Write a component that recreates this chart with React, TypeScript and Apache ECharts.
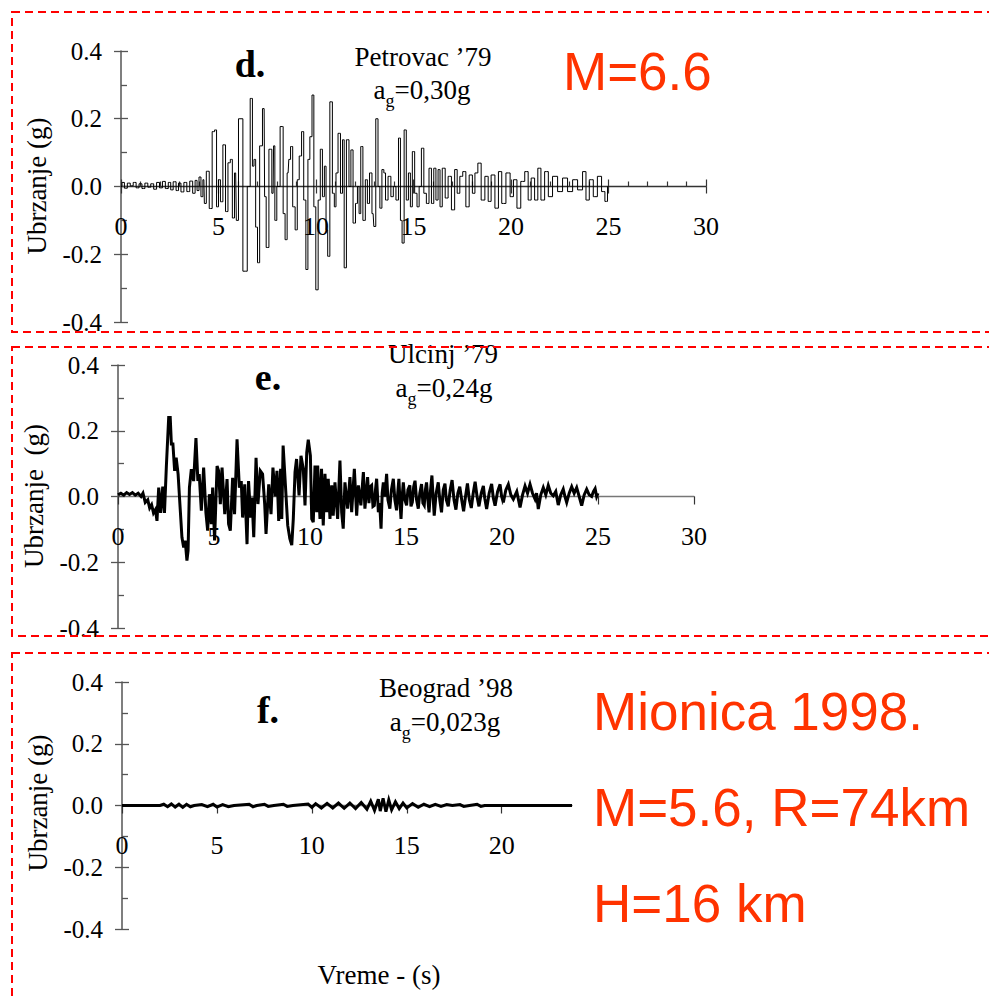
import React, { useEffect, useRef } from 'react';
import * as echarts from 'echarts';

// ---------- data ----------
// Petrovac '79 (panel d), time in s, acceleration in g
const petrovacT = [0, 0.1, 0.25, 0.4, 0.55, 0.7, 0.85, 1.0, 1.15, 1.3, 1.45, 1.6, 1.75, 1.9, 2.05, 2.2, 2.35, 2.5, 2.6, 2.75, 2.9, 3.0, 3.15, 3.3, 3.45, 3.6, 3.75, 3.85, 3.95, 4.05, 4.15, 4.25, 4.3, 4.45, 4.6, 4.75, 4.85, 4.95, 5.05, 5.15, 5.3, 5.42, 5.55, 5.66, 5.76, 5.88, 5.95, 6.1, 6.4, 6.55, 6.7, 6.78, 6.86, 6.95, 7.05, 7.17, 7.34, 7.39, 7.5, 7.67, 7.8, 7.85, 7.93, 8.05, 8.27, 8.36, 8.47, 8.57, 8.64, 8.75, 8.86, 9.0, 9.08, 9.2, 9.32, 9.42, 9.54, 9.63, 9.74, 9.85, 9.93, 10.05, 10.17, 10.27, 10.39, 10.47, 10.56, 10.64, 10.78, 10.9, 10.98, 11.07, 11.19, 11.32, 11.4, 11.49, 11.63, 11.75, 11.83, 11.97, 12.08, 12.17, 12.25, 12.34, 12.47, 12.59, 12.68, 12.81, 12.93, 13.0, 13.13, 13.23, 13.32, 13.44, 13.52, 13.61, 13.78, 13.9, 14.03, 14.17, 14.29, 14.37, 14.46, 14.58, 14.68, 14.8, 14.88, 15.0, 15.12, 15.24, 15.34, 15.47, 15.59, 15.73, 15.86, 15.98, 16.1, 16.2, 16.32, 16.4, 16.55, 16.7, 16.85, 17.04, 17.18, 17.3, 17.45, 17.6, 17.77, 17.94, 18.1, 18.2, 18.4, 18.54, 18.78, 18.88, 19.08, 19.27, 19.44, 19.61, 19.87, 20.04, 20.21, 20.4, 20.6, 20.81, 20.95, 21.12, 21.3, 21.45, 21.62, 21.83, 22.0, 22.26, 22.52, 22.77, 23.03, 23.29, 23.54, 23.8, 23.89, 24.14, 24.3, 24.56, 24.73, 24.9, 25.0];
const petrovacA = [0, 0.012, -0.005, 0.01, 0.002, 0.012, -0.004, 0.008, -0.006, 0.01, -0.002, 0.008, -0.008, 0.012, -0.004, 0.015, -0.006, 0.012, -0.01, 0.014, -0.012, 0.01, -0.016, 0.012, -0.015, 0.016, -0.02, 0.018, -0.012, 0.028, -0.03, 0.02, -0.05, 0.045, -0.065, 0.162, 0.167, -0.06, 0.02, -0.045, 0.123, -0.074, 0.07, 0.08, -0.093, 0.04, -0.1, 0.2, -0.25, 0.0, 0.26, 0.06, 0.08, -0.12, -0.225, 0.12, 0.23, -0.03, -0.18, 0.11, -0.02, 0.12, -0.1, 0.0, 0.177, -0.08, -0.157, 0.04, 0.08, 0.118, -0.06, -0.128, 0.02, 0.09, 0.162, -0.04, -0.245, 0.08, 0.147, 0.27, -0.06, -0.305, -0.04, 0.11, -0.03, 0.06, -0.128, -0.206, 0.25, -0.02, -0.06, 0.04, 0.157, -0.02, 0.138, -0.24, 0.138, 0.0, 0.108, -0.108, -0.05, 0.0, -0.08, 0.118, -0.1, 0.02, -0.05, 0.04, -0.08, -0.118, 0.2, 0.0, -0.064, 0.05, 0.04, -0.04, 0.03, -0.03, 0.0, -0.04, 0.143, -0.1, -0.167, 0.167, -0.04, 0.04, -0.06, 0.103, -0.02, -0.06, 0.0, 0.113, -0.02, -0.05, 0.054, -0.05, 0.054, -0.04, 0.05, -0.06, 0.054, -0.034, 0.03, -0.069, 0.05, -0.02, 0.03, 0.044, -0.06, 0.034, -0.02, 0.04, 0.069, -0.04, 0.03, -0.044, 0.034, -0.064, 0.044, -0.05, 0.04, -0.03, 0.02, -0.064, 0.015, 0.044, -0.04, 0.025, -0.04, 0.054, -0.04, 0.044, -0.03, 0.03, -0.015, 0.025, -0.015, 0.02, -0.01, 0.044, -0.04, 0.02, -0.03, 0.03, -0.015, -0.044, 0.0];

// Ulcinj '79 (panel e)
const ulcinjT = [0, 0.15, 0.3, 0.45, 0.6, 0.75, 0.9, 1.05, 1.2, 1.3, 1.42, 1.55, 1.65, 1.75, 1.85, 1.95, 2.03, 2.12, 2.22, 2.33, 2.42, 2.52, 2.64, 2.72, 2.78, 2.86, 2.95, 3.03, 3.13, 3.2, 3.33, 3.42, 3.5, 3.59, 3.65, 3.72, 3.82, 3.94, 4.06, 4.16, 4.23, 4.34, 4.46, 4.58, 4.67, 4.76, 4.86, 4.93, 5.03, 5.16, 5.24, 5.33, 5.42, 5.56, 5.68, 5.76, 5.85, 5.97, 6.07, 6.2, 6.32, 6.42, 6.49, 6.6, 6.72, 6.8, 6.91, 6.98, 7.07, 7.19, 7.29, 7.41, 7.53, 7.64, 7.71, 7.85, 7.97, 8.07, 8.19, 8.28, 8.37, 8.47, 8.53, 8.6, 8.72, 8.84, 8.95, 9.05, 9.13, 9.22, 9.3, 9.43, 9.53, 9.65, 9.74, 9.83, 9.91, 10.02, 10.09, 10.17, 10.26, 10.35, 10.4, 10.52, 10.6, 10.69, 10.78, 10.87, 10.95, 11.04, 11.13, 11.21, 11.3, 11.44, 11.56, 11.65, 11.73, 11.82, 11.96, 12.08, 12.17, 12.31, 12.43, 12.52, 12.65, 12.78, 12.86, 13.0, 13.07, 13.14, 13.21, 13.28, 13.35, 13.41, 13.47, 13.52, 13.56, 13.63, 13.7, 13.76, 13.82, 13.9, 13.99, 14.06, 14.16, 14.24, 14.34, 14.42, 14.51, 14.57, 14.63, 14.69, 14.74, 14.8, 14.86, 14.94, 15.03, 15.1, 15.2, 15.26, 15.33, 15.4, 15.47, 15.55, 15.64, 15.72, 15.81, 15.88, 15.95, 16.01, 16.07, 16.14, 16.2, 16.28, 16.35, 16.41, 16.47, 16.57, 16.68, 16.76, 16.85, 16.94, 17.03, 17.1, 17.2, 17.3, 17.4, 17.5, 17.6, 17.7, 17.8, 17.9, 18.0, 18.1, 18.2, 18.3, 18.4, 18.5, 18.6, 18.7, 18.8, 18.92, 19.03, 19.1, 19.2, 19.33, 19.46, 19.55, 19.64, 19.77, 19.9, 19.98, 20.07, 20.2, 20.33, 20.46, 20.59, 20.77, 20.94, 21.07, 21.2, 21.33, 21.46, 21.59, 21.72, 21.8, 21.89, 22.02, 22.15, 22.28, 22.41, 22.54, 22.67, 22.8, 22.93, 23.06, 23.19, 23.28, 23.37, 23.5, 23.63, 23.76, 23.89, 24.02, 24.15, 24.28, 24.41, 24.54, 24.67, 24.76, 24.85, 24.93, 25.0];
const ulcinjA = [0.005, 0.01, 0.004, 0.012, 0.006, 0.012, 0.004, 0.01, 0.0, 0.01, -0.018, -0.01, -0.035, -0.025, -0.05, -0.04, -0.074, 0.027, -0.05, 0.03, -0.05, 0.093, 0.24, 0.24, 0.16, 0.16, 0.078, 0.118, 0.068, 0.0, -0.124, -0.155, -0.134, -0.195, -0.165, 0.027, 0.083, 0.047, 0.178, 0.047, 0.068, -0.043, 0.088, -0.05, -0.104, 0.007, -0.084, 0.027, -0.134, 0.093, 0.078, -0.023, 0.088, -0.054, 0.053, -0.084, -0.104, 0.057, -0.054, 0.174, 0.027, 0.047, -0.064, 0.037, -0.145, 0.047, -0.064, -0.003, -0.124, 0.118, -0.023, 0.078, 0.068, -0.023, -0.114, 0.037, -0.054, 0.088, 0.0, 0.078, -0.074, 0.084, -0.068, 0.155, 0.034, -0.088, -0.128, -0.148, -0.068, 0.074, 0.114, 0.003, 0.124, 0.084, -0.027, 0.134, 0.173, 0.124, -0.068, -0.078, 0.094, -0.048, 0.094, -0.068, 0.084, -0.088, 0.069, -0.048, 0.054, -0.068, 0.034, -0.058, 0.043, -0.068, 0.109, -0.048, -0.098, 0.043, -0.037, 0.059, -0.048, 0.084, -0.058, 0.034, -0.027, 0.074, -0.037, 0.059, -0.02, 0.03, 0.034, -0.03, -0.027, 0.02, 0.054, 0.0, -0.048, -0.02, -0.098, 0.01, 0.043, 0.0, 0.069, -0.01, -0.037, 0.02, 0.054, -0.01, -0.042, 0.01, 0.054, -0.02, -0.068, 0.0, 0.043, -0.01, -0.027, 0.02, 0.034, -0.03, -0.017, 0.03, 0.048, -0.01, -0.037, 0.01, 0.038, -0.02, -0.027, 0.02, 0.043, -0.01, -0.048, 0.02, 0.064, 0.0, -0.058, 0.01, 0.043, -0.01, -0.048, 0.02, 0.039, -0.01, -0.03, 0.02, 0.05, -0.01, -0.04, 0.01, 0.03, -0.01, -0.045, 0.0, 0.04, -0.01, -0.035, 0.01, 0.045, 0.0, -0.03, 0.01, 0.032, -0.005, -0.038, 0.01, 0.038, -0.005, -0.028, 0.015, 0.037, 0.0, -0.018, 0.02, 0.037, 0.005, -0.008, 0.015, -0.033, 0.005, 0.032, 0.01, 0.037, 0.01, -0.008, 0.01, -0.038, 0.005, 0.027, 0.005, 0.034, 0.01, 0.002, 0.015, -0.026, 0.005, 0.022, 0.0, -0.018, 0.01, 0.03, 0.01, 0.027, 0.0, -0.028, 0.005, 0.022, 0.005, 0.0, 0.015, 0.024, 0.0, 0.01];

// Beograd '98 (panel f)
const beogradT = [0, 2.0, 2.2, 2.4, 2.6, 2.8, 3.0, 3.2, 3.4, 3.6, 3.8, 4.2, 4.5, 4.8, 5.0, 5.3, 5.6, 5.9, 6.7, 6.9, 7.1, 7.5, 7.7, 8.0, 8.5, 8.7, 9.0, 9.8, 10.0, 10.2, 10.5, 10.8, 11.1, 11.4, 11.7, 12.0, 12.3, 12.6, 12.9, 13.1, 13.3, 13.5, 13.6, 13.75, 13.9, 14.05, 14.2, 14.4, 14.6, 14.8, 15.0, 15.3, 15.6, 15.9, 16.2, 16.5, 16.8, 17.1, 17.4, 17.8, 18.0, 18.3, 18.7, 18.9, 19.1, 23.7];
const beogradA = [0, 0, 0.004, -0.004, 0.005, -0.005, 0.004, -0.006, 0.004, -0.004, 0, 0.003, -0.004, 0.004, -0.005, 0.003, -0.004, 0, 0.004, -0.004, 0, 0.004, -0.003, 0, 0.004, -0.003, 0, 0.005, -0.006, 0.006, -0.008, 0.007, -0.008, 0.008, -0.009, 0.008, -0.01, 0.01, -0.012, 0.014, -0.016, 0.02, -0.018, 0.023, -0.02, 0.018, -0.014, 0.012, -0.01, 0.008, -0.008, 0.006, -0.006, 0.004, -0.004, 0.004, -0.003, 0.003, 0, 0.003, -0.003, 0, 0.004, -0.003, 0, 0];

// tick labels / texts
const xTicksF = [0, 5, 10, 15, 20];
const yLabelText = ['Ubrzanje (g)', 'Ubrzanje  (g)', 'Ubrzanje (g)'];
const panelLetters = ['d.', 'e.', 'f.'];
const stationNames = ["Petrovac \u201979", "Ulcinj \u201979", "Beograd \u201998"];
const pgaValues = ['=0,30g', '=0,24g', '=0,023g'];
const xAxisTitle = 'Vreme - (s)';
const redNotes = ['M=6.6', 'Mionica 1998.', 'M=5.6, R=74km', 'H=16 km'];

const SERIF = '"Liberation Serif", "Times New Roman", serif';
const SANS = '"Liberation Sans", Arial, sans-serif';
const RED = '#ff3300';

function measure(text: string, font: string): number {
  const c = document.createElement('canvas').getContext('2d');
  if (!c) return text.length * 12;
  c.font = font;
  return c.measureText(text).width;
}

export default function App() {
  const ref = useRef<HTMLDivElement>(null);

  useEffect(() => {
    if (!ref.current) return;
    const chart = echarts.init(ref.current, undefined, { renderer: 'svg' });

    const panels = [
      { grid: { left: 121, top: 51, width: 585, height: 271 }, xMax: 30, minor: true, xLine: '#333', xTickLen: 7, lw: 1, step: 'middle', t: petrovacT, a: petrovacA },
      { grid: { left: 118, top: 365, width: 576, height: 263 }, xMax: 30, minor: false, xLine: '#777', xTickLen: 8, lw: 3, step: false, t: ulcinjT, a: ulcinjA },
      { grid: { left: 122, top: 682, width: 450, height: 247 }, xMax: 23.7, minor: false, xLine: '#777', xTickLen: 8, lw: 3, step: false, t: beogradT, a: beogradA },
    ];

    const grids: any[] = [];
    const xAxes: any[] = [];
    const yAxes: any[] = [];
    const series: any[] = [];

    panels.forEach((p, i) => {
      grids.push({ ...p.grid, outerBoundsMode: 'none', containLabel: false });
      const custom = p.xMax === 30 ? undefined : xTicksF;
      xAxes.push({
        gridIndex: i, type: 'value', min: 0, max: p.xMax, interval: 5, position: 'bottom',
        axisLine: { show: true, onZero: true, lineStyle: { color: p.xLine, width: 1.4 } },
        axisTick: { show: true, length: p.xTickLen, lineStyle: { color: '#333', width: 1.2 }, ...(custom ? { customValues: custom } : {}) },
        minorTick: { show: false },
        axisLabel: { show: false },
        splitLine: { show: false },
      });
      xAxes.push({
        gridIndex: i, type: 'value', min: 0, max: p.xMax, interval: 5, position: 'top',
        axisLine: { show: false, onZero: true },
        axisTick: { show: p.minor, length: 7, lineStyle: { color: '#333', width: 1.2 } },
        minorTick: { show: p.minor, splitNumber: 5, length: 5, lineStyle: { color: '#333', width: 1.2 } },
        axisLabel: { show: false },
        splitLine: { show: false },
      });
      yAxes.push({
        gridIndex: i, type: 'value', min: -0.4, max: 0.4, interval: 0.2, position: 'left',
        axisLine: { show: true, onZero: true, lineStyle: { color: '#555', width: 1.5 } },
        axisTick: { show: true, length: 7, lineStyle: { color: '#555', width: 1.3 } },
        axisLabel: { show: true, margin: 19, fontSize: 25, fontFamily: SERIF, color: '#000', formatter: (v: number) => (Math.abs(v) < 1e-9 ? 0 : v).toFixed(1) },
        splitLine: { show: false },
      });
      yAxes.push({
        gridIndex: i, type: 'value', min: -0.4, max: 0.4, interval: 0.2, position: 'right',
        axisLine: { show: false, onZero: true },
        axisTick: { show: true, length: 7, lineStyle: { color: '#555', width: 1.3 } },
        minorTick: { show: true, splitNumber: 2, length: 6, lineStyle: { color: '#555', width: 1.3 } },
        axisLabel: { show: false },
        splitLine: { show: false },
      });
      series.push({
        type: 'line', xAxisIndex: 2 * i, yAxisIndex: 2 * i,
        data: p.t.map((t, k) => [t, p.a[k]]),
        step: p.step,
        symbol: 'none', showSymbol: false, silent: true,
        lineStyle: { color: '#000', width: p.lw, join: 'miter' },
        z: 3,
      });
    });

    // label grids: upper half of each panel, whose bottom edge is the zero line,
    // so the time tick labels sit just below y = 0 as in the reference
    panels.forEach((p, i) => {
      const gi = 3 + i;
      grids.push({ left: p.grid.left, top: p.grid.top, width: p.grid.width, height: p.grid.height / 2, outerBoundsMode: 'none', containLabel: false });
      const custom = p.xMax === 30 ? undefined : xTicksF;
      xAxes.push({
        gridIndex: gi, type: 'value', min: 0, max: p.xMax, interval: 5, position: 'bottom',
        axisLine: { show: false, onZero: false },
        axisTick: { show: false },
        axisLabel: { show: true, margin: 27, fontSize: 26, fontFamily: SERIF, color: '#000', formatter: (v: number) => String(v), ...(custom ? { customValues: custom } : {}) },
        splitLine: { show: false },
      });
      yAxes.push({ gridIndex: gi, type: 'value', min: 0, max: 1, show: false });
    });

    // texts
    const graphics: any[] = [];
    const yLabelPos = [[37, 186], [34, 496], [38, 803]];
    yLabelPos.forEach((pos, i) => {
      graphics.push({
        type: 'text', x: pos[0], y: pos[1], rotation: Math.PI / 2,
        style: { text: yLabelText[i], font: `27px ${SERIF}`, fill: '#000', textAlign: 'center', textVerticalAlign: 'middle' },
      });
    });
    const letterPos = [[250, 64], [268, 377], [268, 710]];
    letterPos.forEach((pos, i) => {
      graphics.push({
        type: 'text', x: pos[0], y: pos[1],
        style: { text: panelLetters[i], font: `bold 38px ${SERIF}`, fill: '#000', textAlign: 'center', textVerticalAlign: 'middle' },
      });
    });
    const namePos = [[423, 57], [443, 354], [446, 688]];
    namePos.forEach((pos, i) => {
      graphics.push({
        type: 'text', x: pos[0], y: pos[1],
        style: { text: stationNames[i], font: `27px ${SERIF}`, fill: '#000', textAlign: 'center', textVerticalAlign: 'middle' },
      });
    });
    const pgaPos = [[422, 90], [444, 388], [445, 722]];
    pgaPos.forEach((pos, i) => {
      const fMain = `27px ${SERIF}`;
      const fSub = `18px ${SERIF}`;
      const wa = measure('a', fMain);
      const wg = measure('g', fSub);
      const wr = measure(pgaValues[i], fMain);
      const x0 = pos[0] - (wa + wg + wr) / 2;
      graphics.push({ type: 'text', x: x0, y: pos[1], style: { text: 'a', font: fMain, fill: '#000', textAlign: 'left', textVerticalAlign: 'middle' } });
      graphics.push({ type: 'text', x: x0 + wa, y: pos[1] + 11, style: { text: 'g', font: fSub, fill: '#000', textAlign: 'left', textVerticalAlign: 'middle' } });
      graphics.push({ type: 'text', x: x0 + wa + wg, y: pos[1], style: { text: pgaValues[i], font: fMain, fill: '#000', textAlign: 'left', textVerticalAlign: 'middle' } });
    });
    graphics.push({
      type: 'text', x: 379, y: 975,
      style: { text: xAxisTitle, font: `27px ${SERIF}`, fill: '#000', textAlign: 'center', textVerticalAlign: 'middle' },
    });
    const redPos = [[563, 71], [593, 711], [593, 807], [593, 903]];
    redPos.forEach((pos, i) => {
      graphics.push({
        type: 'text', x: pos[0], y: pos[1],
        style: { text: redNotes[i], font: `53px ${SANS}`, fill: RED, textAlign: 'left', textVerticalAlign: 'middle' },
      });
    });
    // dashed frames
    const frames = [[12, 12, 1000, 320], [12, 347, 1000, 289], [12, 653, 1000, 400]];
    frames.forEach((r) => {
      graphics.push({
        type: 'rect', z: 100,
        shape: { x: r[0], y: r[1], width: r[2], height: r[3] },
        style: { fill: 'none', stroke: '#ff0000', lineWidth: 2, lineDash: [8, 5] },
      });
    });

    chart.setOption({
      animation: false,
      backgroundColor: '#fff',
      grid: grids,
      xAxis: xAxes,
      yAxis: yAxes,
      series,
      graphic: { elements: graphics },
    });

    return () => chart.dispose();
  }, []);

  return <div ref={ref} style={{ position: 'absolute', left: 0, top: 0, width: 989, height: 1000 }} />;
}
